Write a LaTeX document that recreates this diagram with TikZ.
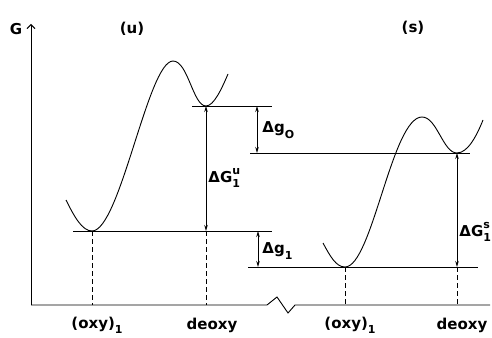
\documentclass[tikz,border=0pt]{standalone}
\usepackage{fontspec}
\setmainfont{DejaVu Sans}
\usetikzlibrary{arrows.meta}
\newcommand{\lo}[1]{\raisebox{-0.65ex}{\fontsize{11}{11}\selectfont #1}}
\newcommand{\hi}[1]{\raisebox{0.95ex}{\fontsize{11}{11}\selectfont #1}}

\begin{document}
\begin{tikzpicture}[x=1pt, y=-1pt, line width=0.9pt,
  lbl/.style={font=\fontsize{15}{17}\selectfont\bfseries, inner sep=0pt},
  dim/.style={{Stealth[length=6pt,width=3.5pt]}-{Stealth[length=6pt,width=3.5pt]}},
  drop/.style={dash pattern=on 5pt off 3pt, line width=0.6pt}]
\useasboundingbox (0,0) rectangle (492,337);

% axes with the break
\coordinate (o) at (31,305);
\draw[-{Straight Barb[length=4pt,width=8pt]}] (o) -- (31,24) coordinate (gtop);
\draw (o) -- (267,305) -- (277,297) -- (288,313) -- (295,305) -- (490,305);
\node[lbl] (G) at (16,29) {G};

% unstable curve (u)
\draw (66,200) .. controls (74,216) and (82,231) .. (92,231) coordinate (uO)
  .. controls (120,231) and (148,61) .. (173,61)
  .. controls (188,61) and (193,106) .. (206,106) coordinate (uD)
  .. controls (214,106) and (222,88) .. (228,74);
\node[lbl] (u) at (132,29) {(u)};

% stable curve (s)
\draw (323,243) .. controls (330,256) and (336,267) .. (345,267) coordinate (sO)
  .. controls (372,267) and (392,117) .. (422,117)
  .. controls (437,117) and (443,153) .. (457,153) coordinate (sD)
  .. controls (468,153) and (477,135) .. (483,120);
\node[lbl] (s) at (413,28) {(s)};

% levels
\draw (192,106) -- (272,106);
\draw (250,153) coordinate (go) -- (470,153);
\draw (73,231) -- (272,231);
\draw (248,267) coordinate (gl) -- (478,267);

% gaps
\draw[dim] (uD) -- (uD |- uO);
\draw[dim] (257,106) -- (257,153);
\draw[dim] (258,231) -- (258,267);
\draw[dim] (sD) -- (sD |- sO);
\node[lbl, anchor=west] (dGu) at (208,178) {ΔG\rlap{\hi{u}}\lo{1}};
\node[lbl, anchor=west] (dgo) at (262,130) {Δg\lo{O}};
\node[lbl, anchor=west] (dgl) at (262,251) {Δg\lo{1}};
\node[lbl, anchor=west] (dGs) at (459,232) {ΔG\rlap{\hi{s}}\lo{1}};

% drops to the axis
\draw[drop] (uO) -- (uO |- o);
\draw[drop] (uD |- uO) -- (uD |- o);
\draw[drop] (sO) -- (sO |- o);
\draw[drop] (sD |- sO) -- (sD |- o);
\node[lbl] (uox) at (97,325) {(oxy)\lo{1}};
\node[lbl] (ude) at (212,325) {deoxy};
\node[lbl] (sox) at (350,325) {(oxy)\lo{1}};
\node[lbl] (sde) at (462,325) {deoxy};
\end{tikzpicture}
\end{document}
